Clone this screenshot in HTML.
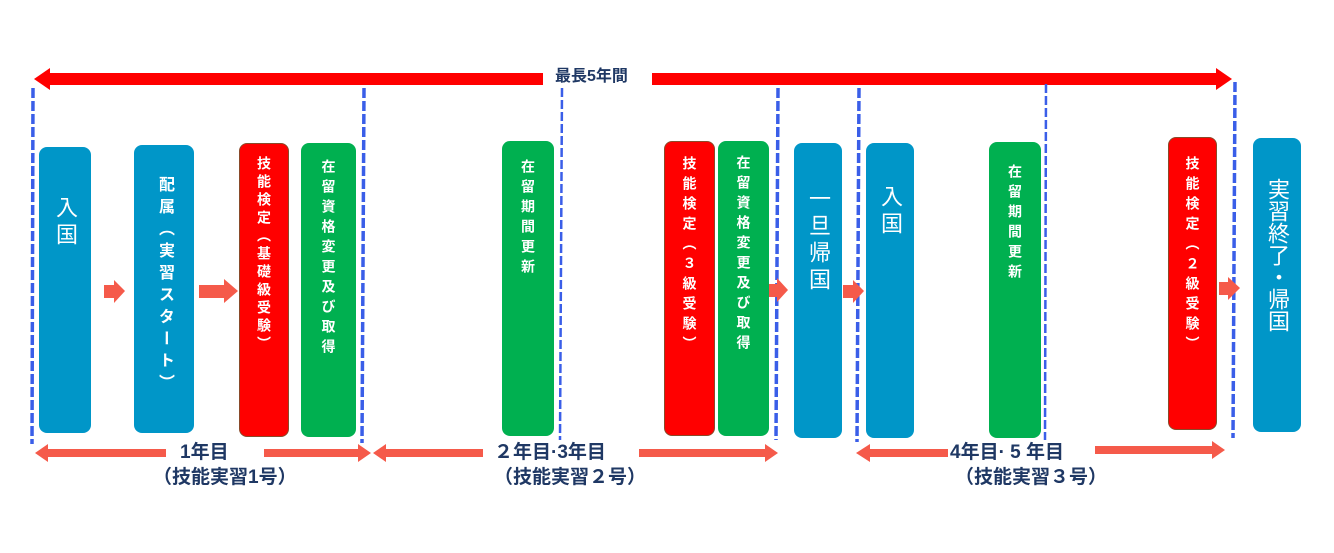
<!DOCTYPE html>
<html><head><meta charset="utf-8"><style>
body{margin:0;width:1334px;height:553px;background:#fff;position:relative;overflow:hidden;font-family:"Liberation Sans","Noto Sans CJK JP",sans-serif}
.b{position:absolute;border-radius:8px;color:#fff;display:flex;justify-content:center}
.bl{background:#0096c8}.gr{background:#00b050}.rd{background:#ff0000;border:1px solid #8a4a2a;box-sizing:border-box}
.v{writing-mode:vertical-rl;text-orientation:upright;font-weight:bold;font-size:14px;letter-spacing:6px;line-height:1}
.vl{writing-mode:vertical-rl;text-orientation:upright;font-size:22px;line-height:1;letter-spacing:5px}
.t{position:absolute;color:#1f3864;font-weight:bold;font-size:19px;white-space:nowrap;line-height:1}
svg{position:absolute;left:0;top:0}
</style></head><body>
<svg width="1334" height="553">
<g fill="#ff0000">
<rect x="46" y="73" width="497" height="12"/>
<rect x="652" y="73" width="568" height="12"/>
<polygon points="34,79 50,68 50,90"/>
<polygon points="1232,79 1216,68 1216,90"/>
</g>
<g stroke="#3a5ee8" stroke-width="3.5" stroke-dasharray="10,3" fill="none">
<line x1="33" y1="88" x2="32" y2="444"/>
<line x1="364" y1="88" x2="362" y2="443"/>
<line x1="778" y1="88" x2="776" y2="440"/>
<line x1="859" y1="88" x2="857" y2="442"/>
<line x1="1235" y1="82" x2="1233" y2="438"/>
</g>
<g stroke="#3a5ee8" stroke-width="2.5" stroke-dasharray="9,3" fill="none">
<line x1="562" y1="88" x2="560" y2="440"/>
<line x1="1046" y1="84" x2="1045" y2="440"/>
</g>
<g fill="#f55a4a">
<rect x="104" y="285" width="12" height="13"/><polygon points="114,280 125,291 114,303"/>
<rect x="199" y="285" width="27" height="13"/><polygon points="224,279 238,291 224,303"/>
<rect x="768" y="284" width="11" height="13"/><polygon points="777,278 788,290 777,302"/>
<rect x="843" y="285" width="12" height="13"/><polygon points="853,280 864,291 853,303"/>
<rect x="1219" y="282" width="11" height="13"/><polygon points="1228,277 1240,288 1228,300"/>
<rect x="46" y="449" width="120" height="8"/><polygon points="35,453 48,444 48,462"/>
<rect x="264" y="449" width="97" height="8"/><polygon points="371,453 358,444 358,462"/>
<rect x="384" y="449" width="99" height="8"/><polygon points="373,453 386,444 386,462"/>
<rect x="639" y="449" width="128" height="8"/><polygon points="778,453 765,444 765,462"/>
<rect x="868" y="449" width="80" height="8"/><polygon points="856,453 870,444 870,462"/>
<rect x="1095" y="446" width="120" height="8"/><polygon points="1225,450 1212,441 1212,459"/>
</g>
</svg>
<div class="t" style="left:555px;top:69px;font-size:16px">最長5年間</div>

<div class="b bl" style="left:39px;top:147px;width:52px;height:286px"><div class="vl" style="margin-top:49px">入国</div></div>
<div class="b bl" style="left:134px;top:145px;width:60px;height:288px"><div class="v" style="margin-top:31px;font-size:16px;letter-spacing:6px">配属（実習スタート）</div></div>
<div class="b rd" style="left:239px;top:143px;width:50px;height:294px"><div class="v" style="margin-top:12px;letter-spacing:4px">技能検定（基礎級受験）</div></div>
<div class="b gr" style="left:301px;top:143px;width:55px;height:294px"><div class="v" style="margin-top:16px">在留資格変更及び取得</div></div>
<div class="b gr" style="left:502px;top:141px;width:52px;height:295px"><div class="v" style="margin-top:18px">在留期間更新</div></div>
<div class="b rd" style="left:664px;top:141px;width:51px;height:295px"><div class="v" style="margin-top:14px">技能検定（３級受験）</div></div>
<div class="b gr" style="left:718px;top:141px;width:51px;height:295px"><div class="v" style="margin-top:14px">在留資格変更及び取得</div></div>
<div class="b bl" style="left:794px;top:143px;width:48px;height:295px"><div class="vl" style="margin-top:44px">一旦帰国</div></div>
<div class="b bl" style="left:866px;top:143px;width:48px;height:295px"><div class="vl" style="margin-top:42px">入国</div></div>
<div class="b gr" style="left:989px;top:142px;width:52px;height:296px"><div class="v" style="margin-top:22px">在留期間更新</div></div>
<div class="b rd" style="left:1168px;top:137px;width:49px;height:293px"><div class="v" style="margin-top:18px">技能検定（２級受験）</div></div>
<div class="b bl" style="left:1253px;top:138px;width:48px;height:294px"><div class="vl" style="margin-top:40px;letter-spacing:0">実習終了・帰国</div></div>

<div class="t" style="left:180px;top:443px">1年目</div>
<div class="t" style="left:153px;top:468px">（技能実習1号）</div>
<div class="t" style="left:494px;top:443px">２年目·3年目</div>
<div class="t" style="left:494px;top:468px">（技能実習２号）</div>
<div class="t" style="left:950px;top:443px">4年目· 5 年目</div>
<div class="t" style="left:955px;top:468px">（技能実習３号）</div>
</body></html>
